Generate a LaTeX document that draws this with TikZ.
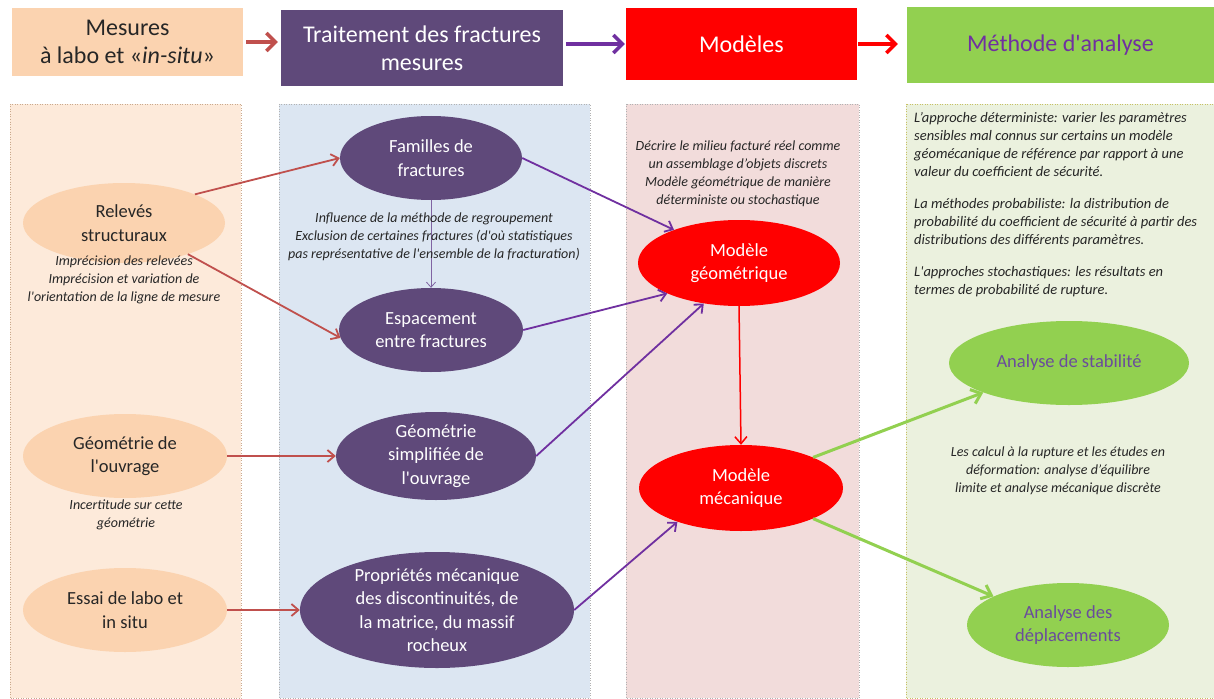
\documentclass[tikz,border=0pt]{standalone}
\usepackage{fontspec}
\setmainfont{Carlito}[Ligatures=TeXOff]
\usetikzlibrary{shapes.geometric,arrows.meta}
\definecolor{peach}{HTML}{FBD3B0}
\definecolor{peachlt}{HTML}{FDEADA}
\definecolor{purp}{HTML}{5F497A}
\definecolor{bluelt}{HTML}{DCE6F2}
\definecolor{pinklt}{HTML}{F2DCDB}
\definecolor{greenlt}{HTML}{EBF1DE}
\definecolor{grn}{HTML}{92D050}
\definecolor{redc}{HTML}{FF0000}
\definecolor{arrred}{HTML}{C0504D}
\definecolor{arrpurp}{HTML}{7030A0}
\definecolor{thinpurp}{HTML}{8064A2}
\definecolor{txtgray}{HTML}{262626}
\definecolor{grntxt}{HTML}{6A4C9C}
\tikzset{
  hdr/.style={rectangle, inner sep=0, align=center, font=\fontsize{24}{28}\selectfont},
  ell/.style={ellipse, inner sep=-10pt, align=center, font=\fontsize{18.5}{23.5}\selectfont},
  note/.style={inner sep=0, align=center, text=txtgray, font=\fontsize{14}{18}\selectfont\itshape},
  panel/.style={draw, dotted, line width=0.5pt},
  harrow/.style={line width=3.5pt, -{Straight Barb[length=9pt,width=18pt]}},
  conn/.style={line width=1.8pt, -{Straight Barb[length=7pt,width=12pt]}},
  gconn/.style={line width=3pt, -{Straight Barb[length=9pt,width=15pt]}},
}
\begin{document}
\begin{tikzpicture}[x=1pt,y=-1pt]
\path[use as bounding box, fill=white] (0,0) rectangle (1214,698);
% panels
\path[panel, fill=peachlt, draw=peach!80!black] (10,104) rectangle (241,698);
\path[panel, fill=bluelt, draw=gray!60] (279,104) rectangle (590,698);
\path[panel, fill=pinklt, draw=gray!60] (626,104) rectangle (859,698);
\path[panel, fill=greenlt, draw=olive!50] (906,104) rectangle (1214,698);
% headers
\node[hdr, fill=peach, text=txtgray, minimum width=231pt, minimum height=68pt] (h1) at (127.5,42) {Mesures\\ à labo et «\textit{in-situ}»};
\node[hdr, fill=purp, text=white, minimum width=282pt, minimum height=76pt] (h2) at (422,48) {Traitement des fractures\\ mesures};
\node[hdr, fill=redc, text=white, minimum width=231pt, minimum height=72pt] (h3) at (741.5,44) {Modèles};
\node[hdr, fill=grn, text=arrpurp, minimum width=307pt, minimum height=76pt] (h4) at (1060.5,45) {Méthode d'analyse};
\draw[harrow, arrred, shorten <=3pt, shorten >=3pt] (h1.east) -- (h1.east -| h2.west);
\draw[harrow, arrpurp, shorten <=3pt, shorten >=1pt] (h2.east |- h3.west) -- (h3.west);
\draw[harrow, redc, shorten <=1pt, shorten >=9pt] (h3.east) -- (h3.east -| h4.west);
% column 1
\node[ell, fill=peach, text=txtgray, minimum width=202pt, minimum height=80pt] (rel) at (124,223) {Relevés\\ structuraux};
\node[note] (relnote) at (124,280) {Imprécision des relevées\\ Imprécision et variation de\\ l'orientation de la ligne de mesure};
\node[ell, fill=peach, text=txtgray, minimum width=204pt, minimum height=84pt] (geo) at (125,456) {Géométrie de\\ l'ouvrage};
\node[note] (geonote) at (126,515) {Incertitude sur cette\\ géométrie};
\node[ell, fill=peach, text=txtgray, minimum width=204pt, minimum height=84pt] (ess) at (125,610) {Essai de labo et\\ in situ};
% column 2
\node[ell, fill=purp, text=white, minimum width=182pt, minimum height=84pt] (fam) at (431,158) {Familles de\\ fractures};
\node[ell, fill=purp, text=white, minimum width=184pt, minimum height=84pt] (esp) at (431,330) {Espacement\\ entre fractures};
\node[ell, fill=purp, text=white, minimum width=200pt, minimum height=88pt] (geos) at (436,456) {Géométrie\\ simplifiée de\\ l'ouvrage};
\node[ell, fill=purp, text=white, minimum width=274pt, minimum height=116pt, inner sep=-16pt] (prop) at (437,610) {Propriétés mécanique\\ des discontinuités, de\\ la matrice, du massif\\ rocheux};
\draw[thinpurp, line width=0.8pt, -{Straight Barb[length=5pt,width=9pt]}] (fam.south) -- (esp.north);
\node[note] (famnote) at (434,237) {Influence de la méthode de regroupement\\ Exclusion de certaines fractures (d'où statistiques\\ pas représentative de l'ensemble de la fracturation)};
% column 3
\node[note] (mgnote) at (738,174) {Décrire le milieu facturé réel comme\\ un assemblage d’objets discrets\\ Modèle géométrique de manière\\ déterministe ou stochastique};
\node[ell, fill=redc, text=white, minimum width=202pt, minimum height=86pt] (mg) at (739,263) {Modèle\\ géométrique};
\node[ell, fill=redc, text=white, minimum width=204pt, minimum height=86pt] (mm) at (741,488) {Modèle\\ mécanique};
% column 4
\node[inner sep=0, anchor=north west, align=left, text=txtgray, font=\fontsize{14.5}{18}\selectfont\itshape] (c4note) at (914,112)
 {L’approche déterministe: varier les paramètres\\ sensibles mal connus sur certains un modèle\\ géomécanique de référence par rapport à une\\ valeur du coefficient de sécurité.\\[14pt]
 La méthodes probabiliste: la distribution de\\ probabilité du coefficient de sécurité à partir des\\ distributions des différents paramètres.\\[14pt]
 L'approches stochastiques: les résultats en\\ termes de probabilité de rupture.};
\node[ell, fill=grn, text=grntxt, minimum width=240pt, minimum height=84pt] (as) at (1069,363) {Analyse de stabilité};
\node[note] (mmnote) at (1058,471) {Les calcul à la rupture et les études en\\ déformation: analyse d’équilibre\\ limite et analyse mécanique discrète};
\node[ell, fill=grn, text=grntxt, minimum width=202pt, minimum height=84pt] (ad) at (1068,625) {Analyse des\\ déplacements};
% connectors
\draw[conn, arrred] (rel.22) -- (fam.west);
\draw[conn, arrred] (rel.-26) -- (esp.185);
\draw[conn, arrred] (geo.east) -- (geos.west);
\draw[conn, arrred] (ess.east) -- (prop.west);
\draw[conn, arrpurp] (fam.east) -- (mg.153);
\draw[conn, arrpurp] (esp.east) -- (mg.203);
\draw[conn, arrpurp] (geos.east) -- (mg.229);
\draw[conn, arrpurp] (prop.east) -- (mm.208);
\draw[conn, redc, line width=1.5pt] (mg.south) -- (mm.north);
\draw[gconn, grn] (mm.23) -- (as.199);
\draw[gconn, grn] (mm.-23) -- (ad.159);
\end{tikzpicture}
\end{document}
